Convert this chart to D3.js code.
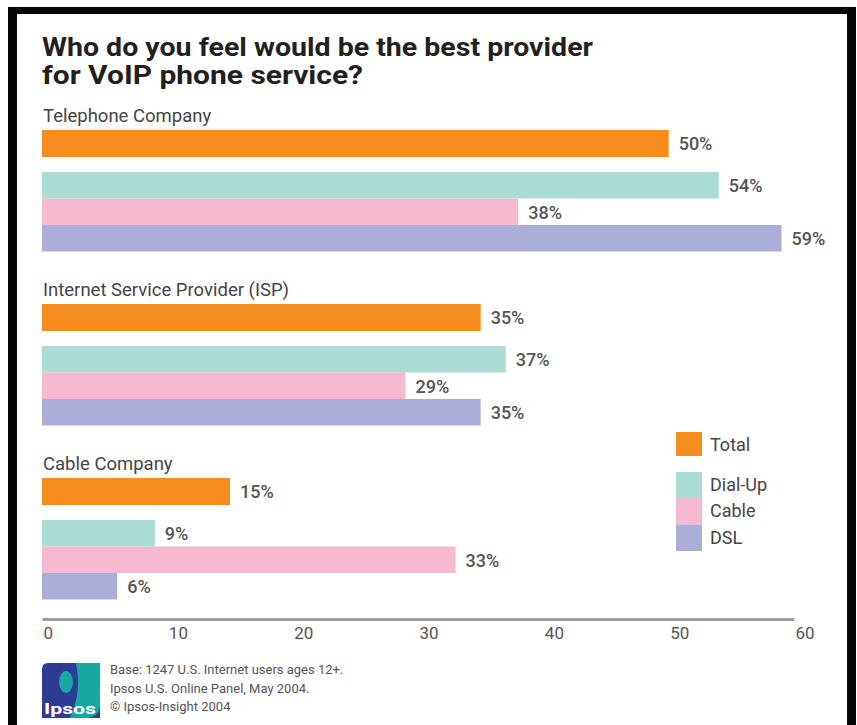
<!DOCTYPE html>
<html lang="en">
<head>
<meta charset="UTF-8">
<title>VoIP provider</title>
<script src="https://d3js.org/d3.v7.min.js"></script>
<style>
  body { margin: 0; background: #fff; }
  text { font-family: Roboto, "Open Sans", sans-serif; }
</style>
</head>
<body>
<div id="chart"></div>
<script>
const categories = ["Telephone Company", "Internet Service Provider (ISP)", "Cable Company"];
const seriesNames = ["Total", "Dial-Up", "Cable", "DSL"];
const total  = [50, 35, 15];
const dialUp = [54, 37, 9];
const cable  = [38, 29, 33];
const dsl    = [59, 35, 6];
const xTicks = [0, 10, 20, 30, 40, 50, 60];
const footnotes = [
  "Base: 1247 U.S. Internet users ages 12+.",
  "Ipsos U.S. Online Panel, May 2004.",
  "\u00A9 Ipsos-Insight 2004"
];

const w = 857, h = 725;
const colors = { "Total": "#f58d1f", "Dial-Up": "#abddd5", "Cable": "#f6bad0", "DSL": "#aaaed9" };
const values = { "Total": total, "Dial-Up": dialUp, "Cable": cable, "DSL": dsl };
// offsets of each row inside one group
const rowTop = { "Total": 0, "Dial-Up": 42, "Cable": 68.5, "DSL": 95 };
const rowH = 26.5;

const svg = d3.select("#chart").append("svg")
  .attr("width", w).attr("height", h);

// black frame
svg.append("rect").attr("x", 8).attr("y", 7).attr("width", 848).attr("height", 730).attr("fill", "#050505");
svg.append("rect").attr("x", 17).attr("y", 14).attr("width", 830).attr("height", 730).attr("fill", "#fff");

const xScale = d3.scaleLinear().domain([0, 60]).range([42, 794]);
const yGroup = d3.scaleBand().domain(categories).range([130, 130 + 174 * 3]);

// title
svg.append("text").attr("x", 42).attr("y", 56)
  .attr("font-size", 25).attr("font-weight", "bold").attr("fill", "#231f20")
  .attr("textLength", 551).attr("lengthAdjust", "spacingAndGlyphs")
  .text("Who do you feel would be the best provider");
svg.append("text").attr("x", 42).attr("y", 84)
  .attr("font-size", 25).attr("font-weight", "bold").attr("fill", "#231f20")
  .attr("textLength", 321).attr("lengthAdjust", "spacingAndGlyphs")
  .text("for VoIP phone service?");

// rows
const rows = [];
categories.forEach((c, i) => {
  seriesNames.forEach(s => rows.push({ cat: c, series: s, value: values[s][i] }));
});

const groups = svg.selectAll("g.grp").data(categories).enter().append("g")
  .attr("class", "grp")
  .attr("transform", d => "translate(0," + yGroup(d) + ")");

groups.append("text")
  .attr("x", 43).attr("y", -8)
  .attr("font-size", 18.5).attr("fill", "#454545")
  .text(d => d);

svg.selectAll("rect.bar").data(rows).enter().append("rect")
  .attr("class", "bar")
  .attr("x", xScale(0))
  .attr("y", d => yGroup(d.cat) + rowTop[d.series])
  .attr("width", d => xScale(d.value) - xScale(0))
  .attr("height", d => d.series === "Total" ? 27 : rowH)
  .attr("fill", d => colors[d.series]);

svg.selectAll("text.val").data(rows).enter().append("text")
  .attr("class", "val")
  .attr("x", d => xScale(d.value) + 10)
  .attr("y", d => yGroup(d.cat) + rowTop[d.series] + 14)
  .attr("dy", "0.36em")
  .attr("font-size", 18).attr("font-weight", 500).attr("fill", "#555")
  .text(d => d.value + "%");

// axis
const xAxis = d3.axisBottom(xScale).tickValues(xTicks).tickSize(0).tickSizeOuter(0).tickPadding(8);
const ax = svg.append("g").attr("transform", "translate(0,619)").call(xAxis);
ax.select(".domain").attr("stroke", "#9b9b9b").attr("stroke-width", 3);
ax.selectAll("text")
  .attr("text-anchor", "start").attr("dx", 1)
  .attr("font-family", "Roboto, sans-serif")
  .attr("font-size", 17).attr("fill", "#555");

// legend
const legendY = { "Total": 432, "Dial-Up": 472, "Cable": 498, "DSL": 524.5 };
const lg = svg.selectAll("g.lg").data(seriesNames).enter().append("g")
  .attr("class", "lg")
  .attr("transform", d => "translate(676," + legendY[d] + ")");
lg.append("rect").attr("width", 26).attr("height", d => d === "Total" ? 24 : 26.5)
  .attr("fill", d => colors[d]);
lg.append("text").attr("x", 34).attr("y", 13).attr("dy", "0.36em")
  .attr("font-size", 18).attr("fill", "#454545")
  .text(d => d);

// logo
const logo = svg.append("g");
logo.append("path")
  .attr("d", "M48,663 L100,663 L100,718 L42,718 L42,669 Q42,663 48,663 Z")
  .attr("fill", "#2f3c96");
logo.append("path")
  .attr("d", "M76,663 L100,663 L100,706 Q99,716 88,718 L70,718 Q82,692 76,663 Z")
  .attr("fill", "#17a8a2");
logo.append("ellipse").attr("cx", 66).attr("cy", 682).attr("rx", 7).attr("ry", 11)
  .attr("fill", "#17a8a2");
logo.append("text").attr("x", 44).attr("y", 714)
  .attr("font-size", 15).attr("font-weight", "bold").attr("fill", "#fff")
  .attr("textLength", 52).attr("lengthAdjust", "spacingAndGlyphs")
  .text("Ipsos");

svg.selectAll("text.foot").data(footnotes).enter().append("text")
  .attr("class", "foot")
  .attr("x", 110).attr("y", (d, i) => 674 + i * 18.5)
  .attr("font-family", "'Liberation Sans', Arial, sans-serif")
  .attr("font-size", 13).attr("fill", "#555")
  .text(d => d);
</script>
</body>
</html>
